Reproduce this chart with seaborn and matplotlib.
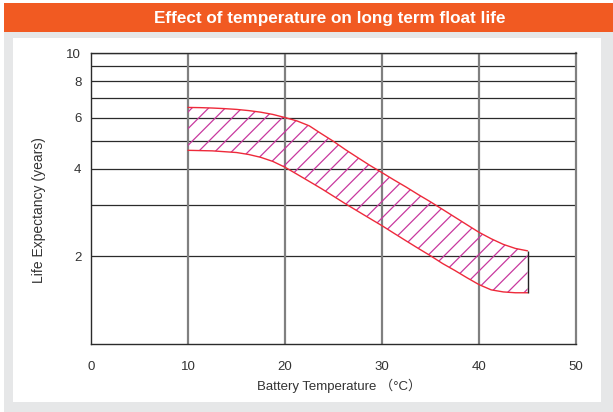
import matplotlib
matplotlib.use("Agg")
import matplotlib.pyplot as plt
import matplotlib.patches as mpatches
import numpy as np
import pandas as pd
import seaborn as sns

# ---- data ----
temperature = [10, 11.25, 12.5, 13.75, 15, 16.25, 17.5, 18.75, 20, 21.25, 22.5, 23.75, 25,
               26.25, 27.5, 28.75, 30, 31.25, 32.5, 33.75, 35, 36.25, 37.5, 38.75, 40,
               41.25, 42.5, 43.75, 45]
life_upper = [6.5, 6.49, 6.47, 6.44, 6.4, 6.34, 6.26, 6.15, 6.0, 5.84, 5.62, 5.28, 4.97,
              4.65, 4.37, 4.11, 3.88, 3.66, 3.46, 3.26, 3.08, 2.9, 2.73, 2.57, 2.42,
              2.3, 2.2, 2.13, 2.09]
life_lower = [4.63, 4.62, 4.61, 4.58, 4.55, 4.48, 4.38, 4.24, 4.05, 3.83, 3.62, 3.42, 3.22,
              3.03, 2.86, 2.7, 2.55, 2.4, 2.26, 2.13, 2.01, 1.89, 1.79, 1.69, 1.6,
              1.535, 1.51, 1.5, 1.5]
x_ticks = [0, 10, 20, 30, 40, 50]
y_grid = [2, 3, 4, 5, 6, 7, 8, 9, 10]
y_labels = ["2", "", "4", "", "6", "", "8", "", "10"]
title = "Effect of temperature on long term float life"
xlabel = "Battery Temperature （°C）"
ylabel = "Life Expectancy (years)"

sns.set_style("white")
plt.rcParams["font.family"] = ["Liberation Sans", "Noto Sans CJK SC", "DejaVu Sans"]
plt.rcParams["hatch.linewidth"] = 0.9

W, H = 613, 412
fig = plt.figure(figsize=(W / 100, H / 100), dpi=100)
fig.patch.set_facecolor("white")

def rect(x0, y0, x1, y1, color):
    fig.patches.append(mpatches.Rectangle((x0 / W, 1 - y1 / H), (x1 - x0) / W, (y1 - y0) / H,
                                          transform=fig.transFigure, facecolor=color,
                                          edgecolor="none", zorder=-5))

rect(4, 3, 613, 32, "#f15a22")
rect(4, 32, 613, 412, "#e6e7e8")
rect(13, 38, 601, 402, "white")
fig.text(506 / W, 1 - 18 / H, title, color="white", fontsize=12.3, fontweight="bold",
         ha="right", va="center")

ax = fig.add_axes([91 / W, 1 - 344 / H, 485 / W, 291 / H])
ax.set_zorder(2)
ax.set_facecolor("white")

df = pd.DataFrame({"t": temperature + temperature,
                   "life": life_upper + life_lower,
                   "edge": ["upper"] * len(temperature) + ["lower"] * len(temperature)})
sns.lineplot(data=df, x="t", y="life", units="edge", estimator=None, color="#ee2a3a",
             lw=1.0, ax=ax, zorder=4)
ax.fill_between(temperature, life_lower, life_upper, facecolor="none", edgecolor="#c8389e",
                hatch="//", linewidth=0, zorder=3)
ax.vlines(temperature[-1], life_lower[-1], life_upper[-1], color="#222222", lw=1.0, zorder=5)

ax.set_yscale("log")
ax.set_xlim(0, 50)
ax.set_ylim(1, 10)
ax.set_xticks(x_ticks)
ax.set_xticklabels([str(v) for v in x_ticks])
ax.set_yticks(y_grid)
ax.set_yticklabels(y_labels)
ax.yaxis.set_minor_locator(matplotlib.ticker.NullLocator())
ax.tick_params(length=0, labelsize=9.5, colors="#333333")
ax.tick_params(axis="x", pad=12)
ax.tick_params(axis="y", pad=7)

for v in y_grid:
    ax.axhline(v, color="#2b2b2b", lw=0.9, zorder=1)
for v in x_ticks[1:-1]:
    ax.axvline(v, color="#808080", lw=1.6, zorder=1)

for s in ["left", "bottom", "top"]:
    ax.spines[s].set_color("#2b2b2b")
    ax.spines[s].set_linewidth(1.0)
ax.spines["right"].set_color("#808080")
ax.spines["right"].set_linewidth(1.6)

ax.set_xlabel("")
ax.set_ylabel("")
fig.text(257 / W, 1 - 386 / H, xlabel, fontsize=9.5, color="#333333", ha="left", va="center")
fig.text(39 / W, 1 - 210 / H, ylabel, fontsize=10, color="#333333", ha="center", va="center",
         rotation=90)

fig.savefig("out.png", dpi=100)
